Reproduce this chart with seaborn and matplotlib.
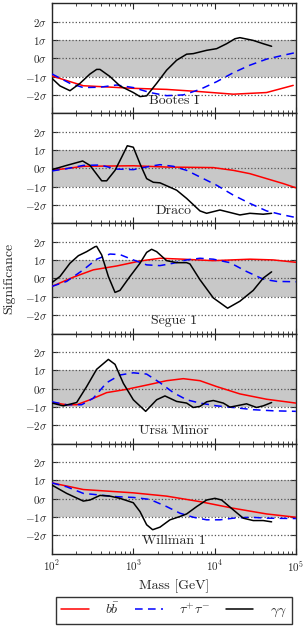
import numpy as np
import pandas as pd
import seaborn as sns
import matplotlib.pyplot as plt

# log10(mass / GeV) and significance (sigma)
boo_bb_m = [2.0, 2.385, 3.0, 3.41, 3.82, 4.23, 4.639, 4.967]
boo_bb_s = [-0.97, -1.5, -1.64, -1.7, -1.82, -1.96, -1.87, -1.48]
boo_tt_m = [2.0, 2.221, 2.385, 2.59, 2.795, 3.0, 3.205, 3.41, 3.615, 3.82, 4.025, 4.23, 4.434, 4.639, 4.844, 5.0]
boo_tt_s = [-0.86, -1.37, -1.6, -1.58, -1.46, -1.6, -1.87, -2.04, -2.0, -1.7, -1.28, -0.79, -0.38, -0.05, 0.16, 0.31]
boo_gg_m = [2.0, 2.098, 2.221, 2.344, 2.467, 2.549, 2.59, 2.713, 2.836, 3.0, 3.082, 3.164, 3.287, 3.41,
            3.533, 3.656, 3.738, 3.902, 4.025, 4.148, 4.25, 4.311, 4.475, 4.598, 4.701]
boo_gg_s = [-1.1, -1.51, -1.77, -1.37, -0.86, -0.61, -0.61, -1.0, -1.51, -1.87, -2.09, -2.05, -1.37, -0.65,
            -0.11, 0.22, 0.25, 0.43, 0.52, 0.79, 1.06, 1.12, 0.97, 0.79, 0.65]

dra_bb_m = [2.0, 2.385, 3.0, 3.41, 3.984, 4.23, 4.434, 4.639, 4.844, 5.0]
dra_bb_s = [-0.11, 0.11, 0.14, 0.07, 0.04, -0.11, -0.29, -0.56, -0.83, -1.06]
dra_tt_m = [2.0, 2.18, 2.385, 2.59, 2.795, 3.0, 3.205, 3.328, 3.492, 3.656, 3.82, 4.025, 4.23, 4.434, 4.639, 4.844, 5.0]
dra_tt_s = [-0.14, -0.02, 0.16, 0.18, -0.04, -0.07, 0.11, 0.2, 0.11, -0.11, -0.47, -0.92, -1.46, -1.91, -2.32, -2.54, -2.68]
dra_gg_m = [2.0, 2.18, 2.377, 2.467, 2.611, 2.672, 2.775, 2.857, 2.926, 3.0, 3.082, 3.164, 3.246, 3.328,
            3.533, 3.656, 3.82, 3.902, 4.066, 4.23, 4.311, 4.434, 4.598, 4.701]
dra_gg_s = [-0.07, 0.16, 0.4, 0.16, -0.68, -0.68, -0.11, 0.61, 1.23, 1.15, 0.25, -0.56, -0.76, -0.79,
            -1.19, -1.64, -2.32, -2.45, -2.27, -2.45, -2.54, -2.45, -2.5, -2.45]

seg_bb_m = [2.0, 2.262, 2.508, 2.795, 3.082, 3.328, 3.615, 3.984, 4.434, 4.721, 5.0]
seg_bb_s = [-0.43, 0.07, 0.47, 0.68, 0.95, 1.1, 1.05, 0.97, 1.05, 1.01, 0.88]
seg_tt_m = [2.0, 2.18, 2.385, 2.549, 2.713, 2.836, 3.0, 3.164, 3.328, 3.492, 3.656, 3.82, 3.984, 4.189,
            4.393, 4.598, 4.762, 5.0]
seg_tt_s = [-0.43, -0.16, 0.47, 1.05, 1.33, 1.3, 1.01, 0.74, 0.7, 0.83, 1.01, 1.1, 1.05, 0.86,
            0.38, -0.04, -0.16, -0.18]
seg_gg_m = [2.0, 2.098, 2.221, 2.324, 2.426, 2.529, 2.549, 2.611, 2.693, 2.775, 2.836, 2.959, 3.082, 3.164,
            3.225, 3.287, 3.41, 3.533, 3.656, 3.697, 3.82, 3.984, 4.16, 4.311, 4.475, 4.598, 4.701]
seg_gg_s = [-0.22, 0.11, 0.83, 1.24, 1.46, 1.73, 1.75, 1.28, 0.11, -0.76, -0.65, 0.11, 0.83, 1.42,
            1.59, 1.46, 0.97, 0.86, 0.86, 0.79, -0.07, -1.06, -1.62, -1.24, -0.65, 0.02, 0.36]

umi_bb_m = [2.0, 2.18, 2.303, 2.467, 2.672, 2.918, 3.205, 3.41, 3.615, 3.82, 4.025, 4.311, 4.639, 5.0]
umi_bb_s = [-0.76, -0.88, -0.88, -0.61, -0.22, -0.04, 0.23, 0.43, 0.54, 0.43, 0.11, -0.29, -0.58, -0.79]
umi_tt_m = [2.0, 2.18, 2.365, 2.508, 2.672, 2.836, 3.0, 3.164, 3.328, 3.492, 3.656, 3.82, 4.025, 4.23,
            4.475, 4.721, 5.0]
umi_tt_s = [-0.72, -0.88, -0.88, -0.52, 0.32, 0.74, 0.86, 0.79, 0.32, -0.22, -0.61, -0.79, -0.94, -1.03,
            -1.15, -1.21, -1.24]
umi_gg_m = [2.0, 2.139, 2.303, 2.426, 2.549, 2.693, 2.775, 2.877, 3.0, 3.152, 3.287, 3.389, 3.533, 3.656,
            3.738, 3.82, 3.902, 3.984, 4.107, 4.189, 4.27, 4.393, 4.516, 4.598, 4.701]
umi_gg_s = [-0.79, -0.94, -0.76, 0.11, 1.05, 1.59, 1.32, 0.29, -0.61, -1.24, -0.61, -0.4, -0.7, -0.79,
            -1.03, -0.97, -0.72, -0.65, -0.79, -1.01, -0.94, -0.83, -1.03, -0.94, -0.76]

wil_bb_m = [2.0, 2.385, 3.0, 3.41, 3.82, 4.23, 4.639, 5.0]
wil_bb_s = [0.86, 0.5, 0.32, 0.14, -0.16, -0.52, -0.83, -1.01]
wil_tt_m = [2.0, 2.18, 2.385, 2.59, 2.795, 3.0, 3.205, 3.41, 3.574, 3.738, 3.902, 4.066, 4.23, 4.434, 4.639, 5.0]
wil_tt_s = [0.86, 0.65, 0.29, 0.2, 0.11, 0.07, -0.04, -0.43, -0.79, -1.01, -1.15, -1.15, -1.06, -1.01, -1.06, -1.08]
wil_gg_m = [2.0, 2.18, 2.385, 2.467, 2.59, 2.713, 2.836, 3.0, 3.082, 3.164, 3.238, 3.328, 3.451, 3.574,
            3.656, 3.779, 3.902, 4.004, 4.086, 4.23, 4.352, 4.475, 4.598, 4.701]
wil_gg_s = [0.74, 0.29, -0.13, -0.07, 0.18, 0.14, 0.02, -0.22, -0.7, -1.42, -1.69, -1.55, -1.15, -0.97,
            -0.83, -0.43, -0.07, 0.02, -0.07, -0.61, -1.06, -1.19, -1.19, -1.26]

dwarfs = ['Bootes I', 'Draco', 'Segue 1', 'Ursa Minor', 'Willman 1']
series = {
    'Bootes I': [(boo_bb_m, boo_bb_s), (boo_tt_m, boo_tt_s), (boo_gg_m, boo_gg_s)],
    'Draco': [(dra_bb_m, dra_bb_s), (dra_tt_m, dra_tt_s), (dra_gg_m, dra_gg_s)],
    'Segue 1': [(seg_bb_m, seg_bb_s), (seg_tt_m, seg_tt_s), (seg_gg_m, seg_gg_s)],
    'Ursa Minor': [(umi_bb_m, umi_bb_s), (umi_tt_m, umi_tt_s), (umi_gg_m, umi_gg_s)],
    'Willman 1': [(wil_bb_m, wil_bb_s), (wil_tt_m, wil_tt_s), (wil_gg_m, wil_gg_s)],
}
channel_labels = [r'$b\bar{b}$', r'$\tau^{+}\tau^{-}$', r'$\gamma\gamma$']
colors = ['#ff0000', '#0000ff', '#000000']
styles = ['-', (0, (5, 3.5)), '-']
ytick_vals = [-2, -1, 0, 1, 2]
ytick_labels = [r'$-2\sigma$', r'$-1\sigma$', r'$0\sigma$', r'$1\sigma$', r'$2\sigma$']

sns.set_style('ticks')
plt.rcParams['font.family'] = 'serif'
plt.rcParams['font.serif'] = ['cmr10', 'DejaVu Serif']
plt.rcParams['mathtext.fontset'] = 'cm'
plt.rcParams['axes.unicode_minus'] = False
plt.rcParams['axes.formatter.use_mathtext'] = True

fig, axes = plt.subplots(5, 1, figsize=(3.06, 6.3), dpi=100, sharex=True)
fig.subplots_adjust(left=0.170, right=0.967, top=0.995, bottom=0.121, hspace=0)

for ax, name in zip(axes, dwarfs):
    ax.axhspan(-1, 1, color='#c8c8c8', lw=0, zorder=0)
    for y in ytick_vals:
        ax.axhline(y, color='#555555', ls=':', lw=0.9, zorder=1)
    for (m, s), c, st, lab in zip(series[name], colors, styles, channel_labels):
        df = pd.DataFrame({'mass': 10 ** np.array(m), 'sig': s})
        sns.lineplot(data=df, x='mass', y='sig', ax=ax, color=c, linestyle=st, lw=1.1,
                     sort=False, estimator=None, label=lab, legend=False, zorder=3)
    ax.set_xscale('log')
    ax.set_xlim(1e2, 1e5)
    ax.set_ylim(-3, 3)
    ax.set_yticks(ytick_vals)
    ax.set_yticklabels(ytick_labels, fontsize=8)
    ax.set_ylabel('')
    ax.set_xlabel('')
    ax.tick_params(which='both', direction='in', top=True, right=True)
    ax.tick_params(which='major', length=4, width=0.8)
    ax.tick_params(which='minor', length=2, width=0.6)
    for sp in ax.spines.values():
        sp.set_linewidth(1.0)
    ax.text(0.5, 0.115, name, transform=ax.transAxes, ha='center', va='center', fontsize=10)

axes[-1].set_xticks([1e2, 1e3, 1e4, 1e5])
axes[-1].set_xticklabels([r'$10^2$', r'$10^3$', r'$10^4$', r'$10^5$'], fontsize=8)
axes[-1].set_xlabel('Mass [GeV]', fontsize=10)
axes[2].set_ylabel('Significance', fontsize=10)
axes[2].yaxis.set_label_coords(-0.15, 0.5)

handles, labels = axes[0].get_legend_handles_labels()
leg = fig.legend(handles, labels, loc='center', ncol=3, bbox_to_anchor=(0.568, 0.031),
                 fontsize=10, frameon=True, fancybox=False, edgecolor='black',
                 handlelength=2.0, handletextpad=1.2, columnspacing=1.1, borderpad=0.35)
leg.get_frame().set_linewidth(1.0)

fig.savefig('out.png', dpi=100)
